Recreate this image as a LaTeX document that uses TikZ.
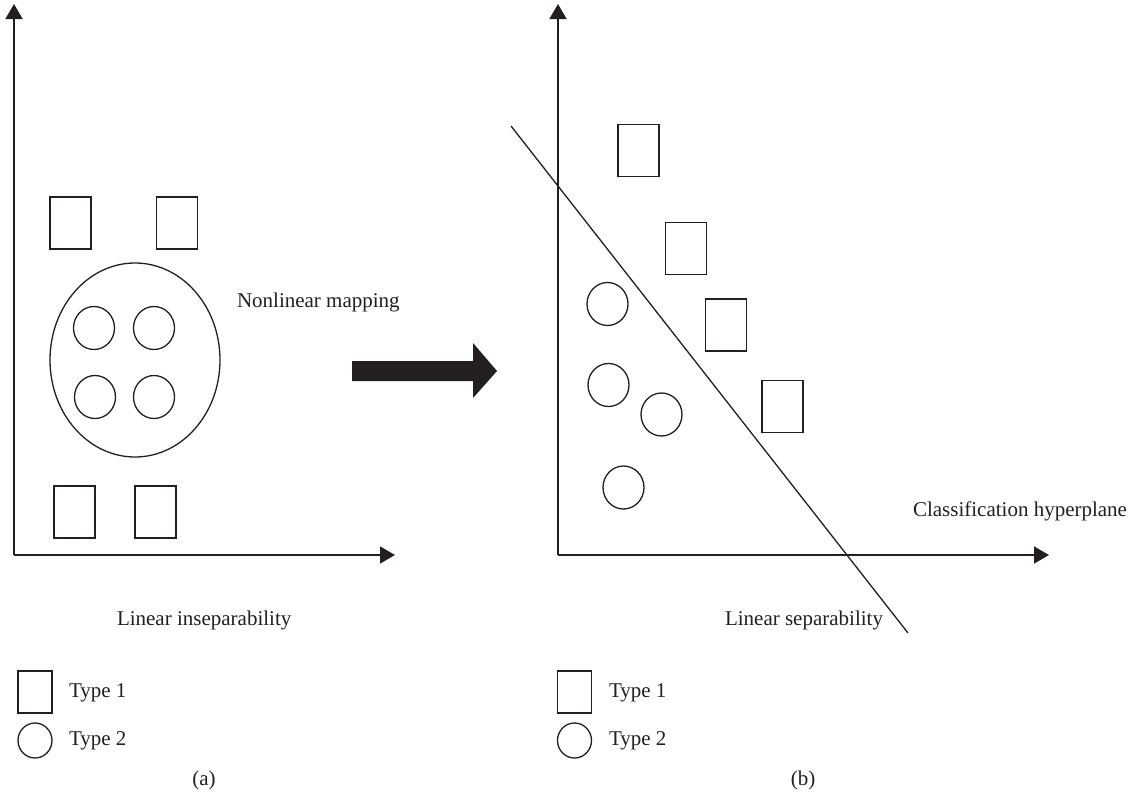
\documentclass[tikz,border=0pt]{standalone}
\usepackage{fontspec}
\setmainfont{Liberation Serif}
\usetikzlibrary{arrows.meta,shapes.geometric}
\definecolor{ink}{HTML}{231F20}
\tikzset{
  every node/.style={inner sep=0pt, outer sep=0pt},
  lbl/.style={anchor=base west, font=\fontsize{21}{25}\selectfont, text=ink},
  lblc/.style={anchor=base, font=\fontsize{21}{25}\selectfont, text=ink},
  axis/.style={draw=ink, line width=1.5pt, -{Triangle[length=15pt,width=17pt]}},
  sq/.style={draw=ink, line width=1.4pt, rectangle, minimum width=41pt, minimum height=52pt},
  lsq/.style={draw=ink, line width=1.4pt, rectangle, minimum width=34pt, minimum height=42pt},
  circ/.style={draw=ink, line width=1.3pt, ellipse, minimum width=41pt, minimum height=43pt},
  lcirc/.style={draw=ink, line width=1.3pt, ellipse, minimum width=34pt, minimum height=35pt},
}
\begin{document}
\begin{tikzpicture}[x=1pt,y=-1pt]
\useasboundingbox[fill=white] (0,0) rectangle (1135,795);

% ---------- panel (a) ----------
\coordinate (oa) at (14,555);
\coordinate (ya) at (14,4);
\coordinate (xa) at (395,555);
\draw[axis] (oa) -- (ya);
\draw[axis] (oa) -- (xa);

\node[sq] (a1) at (70.5,223) {};
\node[sq] (a2) at (177,223) {};
\node[draw=ink, line width=1.3pt, ellipse, minimum width=170pt, minimum height=194pt] (big) at (135,360) {};
\node[circ] (c1) at (94,328) {};
\node[circ] (c2) at (154,328) {};
\node[circ] (c3) at (95,397) {};
\node[circ] (c4) at (154,397) {};
\node[sq] (a3) at (74.5,512) {};
\node[sq] (a4) at (155.5,512) {};

\node[lbl] (nlm) at (237,307) {Nonlinear mapping};
\node[lbl] (lin) at (117,625) {Linear inseparability};

\node[lsq] (la1) at (35,692) {};
\node[lcirc] (la2) at (35,740.5) {};
\node[lbl] (ta1) at (69,697) {Type 1};
\node[lbl] (ta2) at (69,745) {Type 2};
\node[lblc] (capa) at (204,785) {(a)};

% ---------- big arrow ----------
\fill[ink] (352,361) -- (473,361) -- (473,343) -- (497,371) -- (473,398) -- (473,381) -- (352,381) -- cycle;

% ---------- panel (b) ----------
\coordinate (ob) at (558,555);
\coordinate (yb) at (558,4);
\coordinate (xb) at (1049,555);
\draw[axis] (ob) -- (yb);
\draw[axis] (ob) -- (xb);

\coordinate (h1) at (511,126);
\coordinate (h2) at (908,633);
\draw[ink, line width=1.3pt] (h1) -- (h2);

\node[sq] (b1) at (638.5,150.5) {};
\node[sq] (b2) at (686,248.5) {};
\node[sq] (b3) at (726,325) {};
\node[sq] (b4) at (782.5,406.5) {};
\node[circ] (d1) at (607.5,304) {};
\node[circ] (d2) at (608.5,385) {};
\node[circ] (d3) at (661.5,414.5) {};
\node[circ] (d4) at (623.5,487.5) {};

\node[lbl] (chp) at (913,516) {Classification hyperplane};
\node[lbl] (lsep) at (725,625) {Linear separability};

\node[lsq] (lb1) at (574.5,692) {};
\node[lcirc] (lb2) at (574.5,740.5) {};
\node[lbl] (tb1) at (609,697) {Type 1};
\node[lbl] (tb2) at (609,745) {Type 2};
\node[lblc] (capb) at (803,785) {(b)};
\end{tikzpicture}
\end{document}
